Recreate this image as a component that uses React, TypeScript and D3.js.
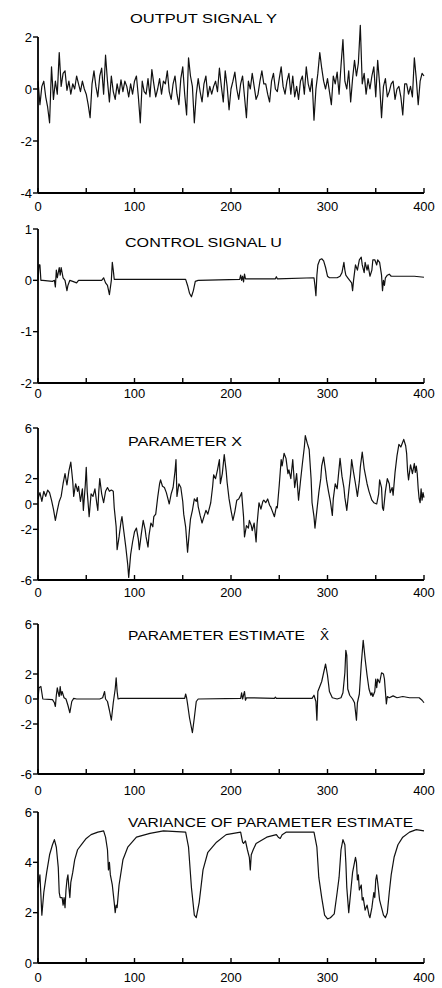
import React from 'react';
import * as d3 from 'd3';

const xTicks = [0, 50, 100, 150, 200, 250, 300, 350, 400];
const xLabels = [0, 100, 200, 300, 400];

const ticksY = [-4, -2, 0, 2];
const ticksU = [-2, -1, 0, 1];
const ticksX = [-6, -2, 0, 2, 6];
const ticksVar = [0, 2, 4, 6];

// output signal y, read every 2nd step
const outputY = [
  0.3, -0.6, 0.1, 0.3, -0.3, -0.7, -1.3, 0.85, -0.4, 0.3,
  -0.2, 1.4, 0.1, 0.6, 0.7, -0.05, 0.3, -0.2, 0.2, 0.0,
  0.5, 0.2, -0.1, 0.3, 0.0, -0.2, -0.6, -1.1, 0.2, 0.7,
  0.1, -0.3, 0.5, 0.8, -0.2, 1.3, 0.3, -0.5, 0.5, -0.1,
  -0.4, 0.2, -0.2, 0.35, -0.1, 0.3, 0.1, -0.3, 0.2, -0.2,
  0.3, 0.5, -0.3, -1.3, 0.3, -0.1, -0.2, 0.4, -0.3, 0.75,
  0.2, -0.3, 0.0, 0.4, -0.2, 0.3, 0.2, 0.7, -0.1, -0.4,
  0.2, 0.5, -0.2, -0.6, 0.4, 0.85, -0.2, -1.0, 1.2, 0.5,
  0.1, -1.3, -0.2, 0.4, -0.1, -0.5, 0.2, 0.5, -0.3, 0.1,
  -0.2, 0.1, 0.3, -0.1, 0.8, 0.1, -0.5, 0.7, 0.1, -0.8,
  0.0, 0.3, 0.65, 0.0, -0.4, 0.2, 0.5, -0.3, -1.1, 0.3,
  0.0, 0.6, 0.1, -0.4, -0.2, 0.3, 0.7, 0.2, 0.2, -0.2,
  -0.5, 0.3, 0.6, 0.0, -0.1, 0.4, 0.85, 0.1, -0.2, 0.3,
  0.6, -0.2, 0.5, -0.3, 0.1, -0.4, 0.3, 0.5, -0.2, 0.85,
  0.2, -0.1, 0.4, -1.2, 0.0, 0.6, 1.4, 0.8, 0.3, 0.0,
  0.4, -0.1, -0.6, 0.5, 0.2, 0.65, -0.2, 0.9, 1.9, 0.3,
  0.0, 0.7, -0.5, 0.4, 1.1, 0.5, 1.0, 2.45, 0.2, 0.6,
  -0.2, 0.4, 0.0, 0.5, 0.85, -0.3, 1.1, 0.2, -1.1, 0.1,
  0.4, -0.3, -0.1, 0.2, 0.3, -0.4, 0.0, 0.1, -0.3, -1.0,
  0.2, 0.2, -0.2, 0.1, -0.3, 1.2, 0.4, -0.6, 0.3, 0.6,
  0.5,
];
const outputPts = outputY.map((v, i) => [i * 2, v]);

const controlU = [
  [0, 0.0], [1, 0.3], [2, 0.3], [3, 0.0], [5, 0.0], [15, -0.02], [17, 0.0], [18, -0.13],
  [19, 0.2], [20, 0.05], [22, 0.25], [23, 0.1], [24, 0.25], [26, 0.05], [28, 0.0], [30, -0.2],
  [31, -0.1], [33, 0.0], [36, -0.02], [40, -0.05], [42, 0.0], [66, 0.0], [68, 0.05], [70, -0.05],
  [72, -0.1], [74, -0.28], [76, 0.0], [77, 0.35], [78, 0.2], [79, 0.02], [153, 0.02], [155, -0.1],
  [157, -0.25], [159, -0.32], [161, -0.2], [163, -0.02], [166, 0.0], [209, 0.02], [210, 0.1],
  [211, 0.0], [212, 0.08], [213, -0.03], [214, 0.12], [215, 0.03], [246, 0.03], [247, 0.07],
  [248, 0.03], [286, 0.05], [287, -0.1], [288, -0.3], [289, 0.1], [290, 0.3], [292, 0.4],
  [294, 0.42], [296, 0.38], [298, 0.25], [300, 0.08], [302, 0.05], [310, 0.05], [313, 0.08],
  [315, 0.15], [317, 0.35], [318, 0.2], [319, 0.1], [321, 0.05], [323, 0.0], [325, -0.05],
  [326, -0.2], [327, 0.0], [329, 0.3], [331, 0.2], [333, 0.4], [335, 0.45], [336, 0.3],
  [338, 0.15], [339, 0.35], [341, 0.2], [342, 0.3], [344, 0.08], [346, 0.2], [347, 0.4],
  [349, 0.4], [351, 0.3], [352, 0.4], [354, 0.35], [356, 0.1], [357, -0.2], [358, 0.0],
  [359, -0.1], [360, 0.05], [362, 0.1], [364, 0.12], [366, 0.08], [390, 0.08], [400, 0.06],
];

const paramX = [
  [0, 0.4], [2, 0.9], [4, 0.2], [6, 1.0], [8, 0.6], [10, 1.1], [12, 0.9], [14, 0.3], [16, -0.4],
  [18, -1.3], [20, -0.5], [22, 0.2], [24, 0.6], [26, 1.6], [28, 2.4], [30, 1.5], [32, 2.6],
  [34, 3.3], [36, 1.8], [37, 0.6], [39, 1.6], [41, 1.0], [42, 1.4], [44, 0.2], [46, 1.2],
  [47, -0.5], [49, 1.5], [50, 2.9], [51, 1.0], [53, -1.0], [55, 0.8], [57, 0.6], [59, 1.2],
  [61, 0.0], [62, -0.5], [63, 1.0], [64, 2.0], [66, 0.8], [68, 0.1], [70, 1.0], [72, 1.3],
  [74, 1.0], [76, 1.1], [78, 1.0], [79, -0.3], [81, -1.8], [82, -3.6], [84, -2.6], [86, -1.4],
  [87, -1.0], [89, -2.2], [91, -3.4], [93, -4.8], [94, -5.8], [96, -4.0], [98, -3.0],
  [100, -2.2], [102, -1.9], [104, -2.8], [105, -3.6], [107, -2.4], [109, -1.3], [111, -2.0],
  [112, -2.6], [114, -3.4], [115, -2.5], [117, -1.5], [119, -1.8], [120, -1.0], [122, -0.8],
  [124, 0.5], [126, 1.6], [127, 1.9], [129, 1.4], [131, 1.3], [133, 0.9], [135, 0.3],
  [136, 0.0], [138, 0.8], [140, 1.3], [142, 2.6], [143, 3.5], [144, 0.6], [146, 1.6],
  [148, 1.3], [150, 0.2], [151, -0.8], [153, -1.8], [155, -3.8], [157, -2.0], [158, -1.2],
  [160, -0.5], [162, 0.4], [164, 0.2], [165, 0.5], [166, -0.2], [168, -0.9], [170, -1.5],
  [172, -1.0], [174, -0.5], [176, -0.8], [178, -0.2], [179, 0.1], [181, 1.4], [182, 2.3],
  [184, 2.0], [186, 2.7], [188, 3.5], [189, 1.6], [191, 2.4], [193, 3.9], [195, 2.6],
  [196, 1.7], [198, 0.4], [200, -0.5], [202, -1.3], [204, -0.6], [206, 0.3], [208, 0.4],
  [210, 0.7], [211, 0.9], [213, -1.0], [214, -2.6], [216, -1.7], [218, -1.9], [219, -1.3],
  [221, -1.7], [222, -2.1], [224, -1.5], [226, -3.0], [227, -1.6], [229, 0.1], [231, -0.4],
  [233, 0.2], [234, 0.3], [236, 0.1], [238, 0.4], [240, -0.1], [241, -0.2], [243, -0.6],
  [245, -1.0], [247, -0.2], [248, -0.3], [250, 1.5], [252, 3.5], [253, 3.0], [255, 4.0],
  [257, 3.6], [259, 2.4], [260, 2.7], [262, 2.0], [264, 3.5], [266, 1.3], [268, 2.4],
  [270, 0.3], [272, 1.8], [274, 3.2], [276, 4.5], [277, 5.4], [279, 4.8], [281, 4.3],
  [283, 2.0], [284, 0.1], [286, -1.0], [287, -1.9], [289, -0.5], [291, 0.9], [293, 2.0],
  [294, 3.0], [296, 3.7], [298, 2.6], [299, 1.9], [301, 1.0], [303, 0.2], [305, -0.9],
  [306, 0.4], [308, 1.6], [310, 1.2], [311, 2.0], [313, 3.6], [315, 2.2], [317, 1.3],
  [318, 0.5], [320, -0.5], [322, 1.0], [324, 2.4], [325, 3.5], [327, 2.5], [329, 1.6],
  [331, 0.6], [333, 1.8], [334, 2.9], [336, 4.1], [338, 2.8], [341, 1.6], [343, 1.0],
  [346, 0.3], [348, 0.1], [351, 0.0], [353, 0.8], [354, 1.9], [356, 1.3], [357, -0.3],
  [358, -0.5], [360, 1.0], [362, 2.0], [364, 1.6], [365, 0.9], [367, 1.3], [368, 0.7],
  [370, 2.5], [372, 3.8], [374, 4.7], [376, 4.5], [378, 4.9], [379, 5.1], [381, 4.6],
  [382, 4.0], [383, 2.6], [384, 1.9], [386, 3.1], [388, 2.4], [390, 3.2], [391, 2.5],
  [392, 3.0], [393, 2.4], [394, 1.2], [395, 0.4], [396, 0.1], [397, 1.2], [398, 0.3],
  [399, 0.9], [400, 0.5],
];

const paramEst = [
  [0, 0.0], [1, 0.9], [3, 1.0], [5, 0.0], [15, -0.05], [17, -0.3], [18, -0.6], [19, 0.3],
  [20, 0.9], [21, 0.5], [22, 0.2], [23, 1.0], [24, 0.3], [25, 0.6], [27, 0.1], [29, 0.0],
  [31, -0.5], [33, -1.1], [35, -0.2], [37, 0.05], [40, 0.0], [64, 0.0], [67, 0.1], [69, 0.6],
  [70, 0.0], [72, -0.2], [74, -0.9], [76, -1.7], [78, -0.3], [80, 0.8], [81, 1.7], [82, 0.6],
  [83, 0.0], [85, 0.05], [152, 0.05], [153, 0.4], [154, 0.1], [155, -0.4], [157, -1.5],
  [160, -2.7], [162, -1.5], [164, -0.2], [166, 0.0], [210, 0.05], [211, 0.5], [212, 0.0],
  [213, 0.3], [214, 0.6], [215, -0.1], [216, 0.1], [245, 0.05], [246, 0.15], [247, 0.05],
  [284, 0.05], [286, 0.3], [288, -0.2], [289, -1.7], [290, 0.6], [292, 1.0], [294, 1.4],
  [296, 2.1], [298, 2.8], [300, 1.9], [302, 0.6], [305, 0.1], [310, 0.0], [314, 0.1],
  [316, 0.5], [318, 2.1], [319, 3.9], [320, 3.5], [321, 0.8], [323, 0.3], [326, 0.0],
  [328, -0.3], [330, -1.7], [331, -0.3], [333, 0.4], [335, 2.8], [337, 4.7], [339, 3.2],
  [341, 1.9], [343, 0.8], [345, 0.3], [346, 0.5], [347, 0.2], [349, 0.6], [350, 1.6],
  [351, 0.9], [352, 1.6], [354, 1.3], [356, 2.1], [358, 2.0], [359, 1.6], [361, -0.4],
  [362, 0.2], [364, 0.1], [368, 0.25], [372, 0.1], [378, 0.2], [385, 0.1], [395, 0.1],
  [398, -0.1], [400, -0.3],
];

const paramVar = [
  [0, 3.0], [2, 3.5], [4, 1.9], [6, 2.8], [9, 3.6], [12, 4.3], [15, 4.7], [17, 4.9],
  [19, 4.6], [21, 3.8], [22, 2.8], [23, 2.6], [25, 2.6], [26, 2.3], [27, 2.6], [28, 2.2],
  [29, 2.9], [30, 3.3], [31, 3.5], [32, 3.0], [33, 2.6], [34, 3.2], [36, 3.6], [38, 4.1],
  [41, 4.5], [45, 4.7], [50, 4.95], [55, 5.1], [62, 5.2], [68, 5.25], [70, 5.0], [72, 4.5],
  [73, 3.7], [74, 4.0], [75, 3.5], [77, 3.1], [79, 2.4], [80, 2.0], [81, 2.3], [82, 2.2],
  [84, 3.1], [88, 4.1], [93, 4.6], [102, 5.0], [116, 5.15], [130, 5.25], [153, 5.2],
  [156, 4.6], [159, 3.0], [162, 1.9], [164, 1.8], [167, 2.4], [171, 3.7], [176, 4.4],
  [185, 4.8], [195, 5.1], [210, 5.2], [212, 4.8], [213, 4.75], [215, 4.85], [217, 4.5],
  [219, 4.2], [220, 3.7], [221, 4.3], [223, 4.5], [226, 4.75], [237, 5.0], [247, 5.1],
  [249, 5.0], [251, 4.95], [253, 5.1], [257, 5.2], [286, 5.2], [289, 4.6], [291, 3.4],
  [294, 2.6], [297, 1.9], [300, 1.75], [303, 1.8], [307, 1.95], [310, 2.8], [312, 3.4],
  [314, 4.5], [316, 4.9], [318, 4.7], [319, 4.0], [320, 3.0], [322, 2.0], [324, 2.8],
  [326, 3.6], [329, 4.2], [330, 4.0], [331, 3.3], [332, 3.5], [333, 2.9], [335, 3.1],
  [336, 2.5], [337, 2.6], [339, 2.1], [341, 2.3], [343, 1.9], [344, 1.8], [346, 2.2],
  [348, 2.8], [349, 2.6], [350, 3.3], [351, 3.5], [352, 3.2], [354, 2.5], [356, 2.2],
  [358, 1.9], [360, 1.8], [362, 2.0], [364, 2.8], [366, 3.5], [369, 4.2], [373, 4.7],
  [378, 5.0], [385, 5.2], [392, 5.3], [400, 5.25],
];

const FONT = 'Liberation Sans, Arial, sans-serif';
const x = d3.scaleLinear().domain([0, 400]).range([38, 424]);

const Panel = ({ title, titleX, titleW, titleY, domain, range, yTicks, points, labelY, children }: any) => {
  const y = d3.scaleLinear().domain(domain).range(range);
  const line = d3
    .line<number[]>()
    .x(d => x(d[0]))
    .y(d => y(d[1]));
  const bottom = range[0];
  const x0 = x(0);

  return (
    <g>
      <text x={titleX} y={titleY} fontSize={13.5} textLength={titleW} lengthAdjust="spacingAndGlyphs">
        {title}
      </text>
      {children}
      <path d={line(points) || ''} fill="none" stroke="#111" strokeWidth={1.2} strokeLinejoin="round" />
      <line x1={x0} x2={x0} y1={range[1]} y2={bottom} stroke="#000" strokeWidth={1.8} />
      <line x1={x0} x2={x(400)} y1={bottom} y2={bottom} stroke="#000" strokeWidth={1.8} />
      {xTicks.map(t => (
        <line key={t} x1={x(t)} x2={x(t)} y1={bottom} y2={bottom - 5} stroke="#000" strokeWidth={1.4} />
      ))}
      {xLabels.map(t => (
        <text key={t} x={x(t)} y={labelY} fontSize={13} textAnchor="middle">
          {t}
        </text>
      ))}
      {yTicks.map((v: number) => (
        <g key={v}>
          <line x1={x0 - 5} x2={x0} y1={y(v)} y2={y(v)} stroke="#000" strokeWidth={1.4} />
          <text x={x0 - 6} y={y(v) + 4.6} fontSize={13} textAnchor="end">
            {v}
          </text>
        </g>
      ))}
    </g>
  );
};

const App = () => (
  <svg
    width={442}
    height={988}
    style={{ position: 'absolute', left: 0, top: 0, background: '#fff' }}
    fontFamily={FONT}
    fill="#000"
  >
    <Panel title="OUTPUT SIGNAL Y" titleX={130} titleW={147} titleY={23}
      domain={[-4, 2]} range={[193, 37]} yTicks={ticksY} points={outputPts} labelY={211} />
    <Panel title="CONTROL  SIGNAL  U" titleX={125} titleW={157} titleY={247}
      domain={[-2, 1]} range={[383, 229]} yTicks={ticksU} points={controlU} labelY={398} />
    <Panel title="PARAMETER  X" titleX={128} titleW={114} titleY={446}
      domain={[-6, 6]} range={[580, 428]} yTicks={ticksX} points={paramX} labelY={597} />
    <Panel title="PARAMETER  ESTIMATE" titleX={128} titleW={177} titleY={640}
      domain={[-6, 6]} range={[774, 624]} yTicks={ticksX} points={paramEst} labelY={795}>
      <text x={320} y={640} fontSize={13.5}>{'X\u0302'}</text>
    </Panel>
    <Panel title="VARIANCE OF PARAMETER ESTIMATE" titleX={128} titleW={285} titleY={827}
      domain={[0, 6]} range={[963, 812]} yTicks={ticksVar} points={paramVar} labelY={982} />
  </svg>
);

export default App;
